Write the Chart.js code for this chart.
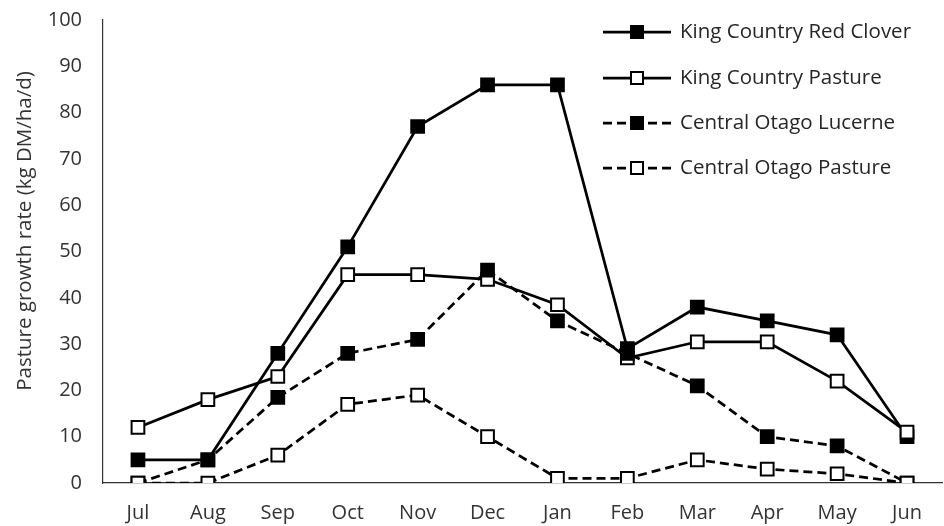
<!DOCTYPE html>
<html>
<head>
<meta charset="utf-8">
<script src="https://cdn.jsdelivr.net/npm/chart.js@4"></script>
<style>
  html, body { margin: 0; padding: 0; background: #fff; overflow: hidden; }
  #wrap { position: relative; width: 953px; height: 526px; }
</style>
</head>
<body>
<div id="wrap"><canvas id="growth"></canvas></div>
<script>
var months = ['Jul', 'Aug', 'Sep', 'Oct', 'Nov', 'Dec', 'Jan', 'Feb', 'Mar', 'Apr', 'May', 'Jun'];

var kingCountryRedClover = [5, 5, 28, 51, 77, 86, 86, 29, 38, 35, 32, 10];
var kingCountryPasture = [12, 18, 23, 45, 45, 44, 38.5, 27, 30.5, 30.5, 22, 11];
var centralOtagoLucerne = [0, 5, 18.5, 28, 31, 46, 35, 28, 21, 10, 8, 0];
var centralOtagoPasture = [0, 0, 6, 17, 19, 10, 1, 1, 5, 3, 2, 0];

var yTicks = [0, 10, 20, 30, 40, 50, 60, 70, 80, 90, 100];
var yTitle = 'Pasture growth rate (kg DM/ha/d)';

var fontName = '"Open Sans", Lato, sans-serif';

// order: later series sit on top, like the original
function series(label, values, filled, dashed, order) {
  return {
    label: label,
    data: values,
    order: order,
    borderColor: '#000',
    borderWidth: 2.75,
    borderDash: dashed ? [9, 5] : [],
    pointStyle: 'rect',
    pointRadius: 9,
    pointHoverRadius: 9,
    pointBorderWidth: 2,
    pointBorderColor: '#000',
    pointBackgroundColor: filled ? '#000' : '#fff',
    fill: false,
    tension: 0
  };
}

// legend with a line + marker sample, drawn like the original
var sideLegend = {
  id: 'sideLegend',
  afterDraw: function(chart) {
    var ctx = chart.ctx;
    var rows = [32, 78, 123, 168];
    ctx.save();
    chart.data.datasets.forEach(function(ds, i) {
      var y = rows[i];
      ctx.strokeStyle = '#000';
      ctx.lineWidth = 2.75;
      ctx.setLineDash(ds.borderDash);
      ctx.beginPath();
      ctx.moveTo(603, y);
      ctx.lineTo(630, y);
      ctx.moveTo(671, y);
      ctx.lineTo(644, y);
      ctx.stroke();
      ctx.setLineDash([]);
      ctx.beginPath();
      ctx.moveTo(630, y);
      ctx.lineTo(644, y);
      ctx.stroke();
      ctx.fillStyle = ds.pointBackgroundColor;
      ctx.lineWidth = 2;
      ctx.fillRect(631, y - 6, 12, 12);
      ctx.strokeRect(631, y - 6, 12, 12);
      ctx.fillStyle = '#262626';
      ctx.font = '20.5px ' + fontName;
      ctx.textBaseline = 'middle';
      ctx.textAlign = 'left';
      ctx.fillText(ds.label, 680, y);
    });

    // y axis title
    ctx.translate(25, 231);
    ctx.rotate(-Math.PI / 2);
    ctx.fillStyle = '#333';
    ctx.font = '20.5px ' + fontName;
    ctx.textAlign = 'center';
    ctx.textBaseline = 'middle';
    ctx.fillText(yTitle, 0, 0);
    ctx.restore();
  }
};

new Chart(document.getElementById('growth'), {
  type: 'line',
  data: {
    labels: months,
    datasets: [
      series('King Country Red Clover', kingCountryRedClover, true, false, 3),
      series('King Country Pasture', kingCountryPasture, false, false, 2),
      series('Central Otago Lucerne', centralOtagoLucerne, true, true, 1),
      series('Central Otago Pasture', centralOtagoPasture, false, true, 0)
    ]
  },
  options: {
    responsive: true,
    maintainAspectRatio: false,
    animation: false,
    layout: { padding: { top: 20, left: 0, right: 0, bottom: 0 } },
    plugins: {
      legend: { display: false },
      tooltip: { enabled: false },
      title: { display: false }
    },
    scales: {
      x: {
        offset: true,
        grid: { display: false, drawTicks: false },
        border: { display: true, color: '#333', width: 1.2 },
        ticks: {
          padding: 18,
          color: '#333',
          font: { family: fontName, size: 20 }
        },
        afterFit: function(scale) {
          scale.height = 43;
          scale.paddingLeft = 0;
          scale.paddingRight = 0;
        }
      },
      y: {
        min: 0,
        max: 100,
        afterBuildTicks: function(scale) {
          scale.ticks = yTicks.map(function(v) { return { value: v }; });
        },
        grid: { display: false, drawTicks: false },
        border: { display: true, color: '#333', width: 1.2 },
        ticks: {
          padding: 21,
          color: '#333',
          font: { family: fontName, size: 20 }
        },
        afterFit: function(scale) {
          scale.width = 103;
          scale.paddingTop = 0;
          scale.paddingBottom = 0;
        }
      }
    }
  },
  plugins: [sideLegend]
});
</script>
</body>
</html>
